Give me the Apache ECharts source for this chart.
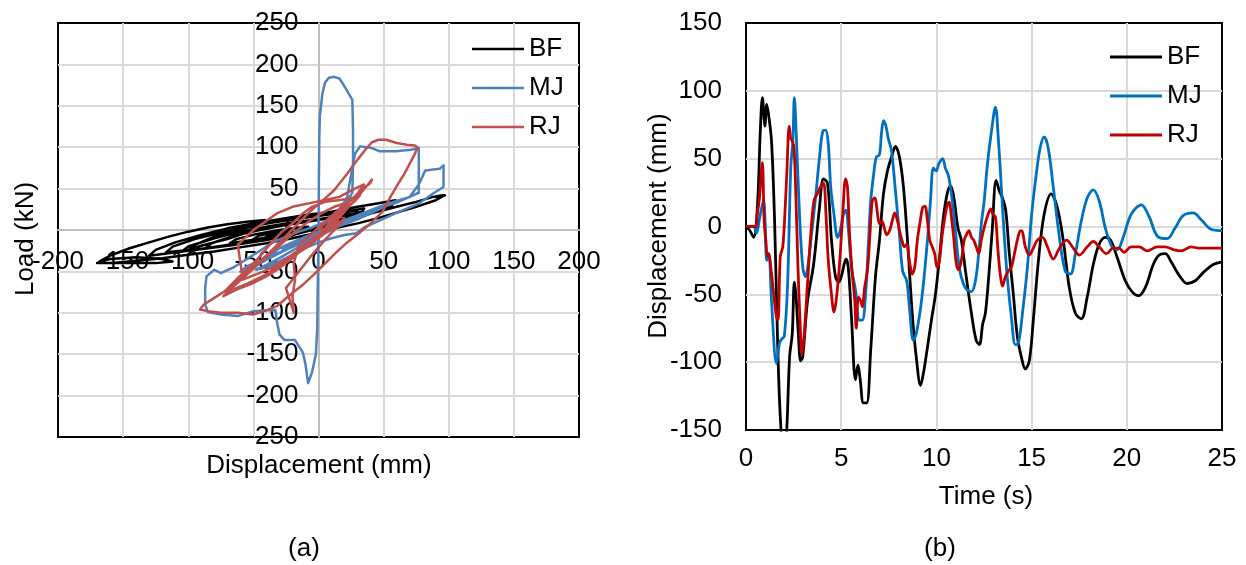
<!DOCTYPE html>
<html>
<head>
<meta charset="utf-8">
<script src="https://cdn.jsdelivr.net/npm/echarts@6/dist/echarts.min.js"></script>
<style>
html,body{margin:0;padding:0;background:#fff;}
#chart{width:1246px;height:565px;}
</style>
</head>
<body>
<div id="chart"></div>
<script>
// ---------- DATA ----------
const seriesNames = ['BF', 'MJ', 'RJ'];

// Panel (a): hysteresis, [displacement (mm), load (kN)]
const bfHysteresis = [
  [0,0],[-2,-1],[-5,-3],[0,2],[15,9],[30,16],[45,22],[60,28],[75,34],[88,40],[95,42],[97,42],
  [96,40],[90,36],[75,28],[60,21],[45,14],[30,8],[15,3],[0,-3],[-20,-10],[-40,-16],[-60,-21],[-80,-26],[-100,-30],[-120,-34],[-140,-37],[-160,-40],[-170,-40],
  [-150,-40],[-125,-40],[-112,-38],[-120,-35],[-140,-33],[-160,-35],[-168,-38],
  [-160,-31],[-145,-22],[-130,-15],[-115,-8],[-100,-2],[-85,3],[-70,7],[-55,10],[-41,12],
  [-45,7],[-55,-3],[-70,-11],[-85,-17],[-99,-23],
  [-95,-18],[-80,-8],[-60,1],[-40,8],[-20,13],[0,17],[20,22],[35,26],
  [33,20],[20,12],[0,3],[-20,-5],[-40,-11],[-60,-16],[-80,-21],[-100,-25],[-115,-28],[-130,-31],
  [-125,-24],[-110,-15],[-90,-6],[-70,2],[-50,8],[-30,13],[-10,18],[10,22],[30,28],[45,32],[59,36],
  [56,29],[40,20],[20,10],[0,2],[-20,-6],[-40,-12],[-60,-17],[-80,-21],[-100,-24],[-117,-27],
  [-112,-20],[-95,-11],[-75,-3],[-55,4],[-35,9],[-15,14],[5,18],[20,21],[30,24],
  [27,18],[10,9],[-10,0],[-30,-7],[-50,-13],[-70,-18],[-87,-22],
  [-82,-16],[-65,-7],[-45,0],[-25,6],[-5,11],[15,16],[34,22],
  [31,16],[15,8],[-5,0],[-25,-7],[-45,-13],[-65,-18],[-85,-22],[-105,-26],
  [-100,-20],[-80,-10],[-60,-2],[-40,4],[-20,9],[0,13],[24,19],
  [21,14],[5,6],[-15,-2],[-35,-8],[-55,-13],[-68,-16],
  [-63,-11],[-48,-5],[-30,0],[-15,3],[-8,4],
  [-12,0],[-25,-5],[-40,-9],[-51,-12],
  [-46,-7],[-35,-3],[-20,0],
  [-25,-4],[-35,-8],[-42,-10],
  [-38,-6],[-30,-4],[-26,-3]
];
const mjHysteresis = [
  [0,0],[0.3,60],[0.6,110],[1,137],[3,165],[5,178],[8,184],[12,185],[16,183],[19,176],[22,168],[26,157],
  [26.5,120],[26.5,80],[26,45],[18,25],[8,8],[0,-8],
  [-0.5,-60],[-1,-120],[-2,-150],[-5,-172],[-8,-185],[-10,-162],[-12,-148],[-18,-133],[-26,-133],[-30,-126],[-32,-110],[-33,-97],
  [-40,-97],[-50,-98],[-62,-104],[-75,-102],[-85,-99],[-87,-90],[-87,-70],[-86,-56],[-80,-48],
  [-75,-52],[-65,-45],[-55,-35],[-45,-25],[-35,-15],[-25,-8],[-15,-2],[-5,3],[5,10],[15,20],[22,40],[26,75],[28,92],
  [32,101],[41,99],[47,95],[59,95],[71,97],[77,99],[77,80],[77,60],[77,45],
  [70,40],[60,35],[50,30],[40,24],[30,18],[20,12],[10,5],[0,-2],[-10,-8],[-20,-15],[-30,-22],[-37,-30],
  [-30,-27],[-20,-20],[-10,-12],[0,-4],[10,4],[20,10],[30,16],[40,22],[50,28],[60,33],[70,40],
  [77,55],[82,72],[88,73],[93,74],[96,78],[96,65],[96,52],
  [88,44],[77,32],[65,24],[59,20],[45,10],[35,3],[29,-4],[20,-6],[10,-10],[0,-15],[-10,-22],[-20,-30],[-30,-38],[-40,-45],[-48,-48],
  [-40,-42],[-30,-34],[-20,-25],[-10,-16],[0,-8],[10,0],[20,8],[30,15],[40,22],[50,29],[55,33],
  [45,26],[35,18],[25,11],[15,4],[5,-3],[-5,-10],[-15,-17],[-25,-24],[-35,-30],[-45,-37],[-55,-44],[-60,-50],
  [-50,-45],[-40,-36],[-30,-28],[-20,-20],[-10,-12],[0,-4],[10,3],[20,9],[30,15],[40,21],[48,26],
  [40,20],[30,13],[20,7],[10,1],[0,-5],[-10,-12],[-20,-18],[-28,-22],
  [-20,-17],[-10,-10],[0,-3],[10,3],[16,6],[10,2],[0,-3],[-5,-5]
];
const rjHysteresis = [
  [0,0],[5,8],[15,22],[25,36],[33,48],[40,57],[41,61],
  [38,55],[30,40],[20,22],[8,2],[-5,-15],[-18,-30],[-30,-43],[-42,-55],[-55,-65],[-66,-72],[-70,-75],
  [-66,-66],[-58,-55],[-48,-42],[-38,-28],[-28,-12],[-18,4],[-8,20],[2,34],[12,48],[22,68],[30,85],[36,97],[41,106],[46,109],[52,109],[60,105],[68,103],[74,102],[76,100],
  [74,92],[70,80],[66,68],[62,58],[56,42],[49,22],[40,8],[31,-4],[22,-15],[13,-28],[4,-42],[-5,-56],[-12,-66],[-20,-76],[-26,-84],[-32,-92],[-40,-97],[-50,-102],[-62,-100],[-75,-100],[-85,-98],[-91,-96],
  [-88,-90],[-80,-82],[-72,-74],[-62,-58],[-52,-44],[-44,-30],[-36,-15],[-28,-2],[-20,8],[-12,20],[-5,28],[5,34],[15,36],[25,38],[32,42],
  [28,35],[18,22],[8,6],[-2,-8],[-12,-20],[-22,-32],[-32,-42],[-42,-50],[-52,-56],[-58,-60],
  [-62,-18],[-50,0],[-32,20],[-20,28],[-2,34],[16,40],[28,50],[35,55],
  [30,44],[20,28],[10,10],[0,-6],[-10,-20],[-20,-34],[-30,-46],[-40,-56],[-50,-64],[-60,-70],[-68,-76],[-73,-80],
  [-68,-72],[-58,-58],[-48,-44],[-38,-30],[-28,-16],[-18,-2],[-8,10],[2,20],[12,28],[20,32],
  [15,24],[5,10],[-5,-4],[-15,-18],[-19,-40],[-18,-60],[-20,-80],[-19,-100],[-22,-85],[-25,-70],
  [-15,-50],[-5,-30],[5,-12],[15,5],[20,14],[10,2],[0,-10],[-10,-22],[-18,-30],
  [-10,-18],[0,-6],[8,4],[15,12],[8,2],[0,-6],[-5,-10]
];

// Panel (b): time history, [time (s), displacement (mm)]
const bfTimeHistory = [
  [0,0],[0.2,-3],[0.4,-8],[0.6,15],[0.75,70],[0.86,95],[0.95,80],[0.99,74],[1.09,90],[1.2,81],[1.34,63],[1.5,5],[1.66,-85],[1.8,-140],[1.95,-162],[2.05,-160],[2.14,-150],[2.29,-96],[2.43,-79],[2.54,-41],[2.62,-50],[2.75,-79],[2.87,-99],[2.98,-96],[3.23,-55],[3.55,-28],[3.86,14],[4.07,35],[4.28,32],[4.49,-10],[4.70,-37],[4.87,-41],[5.04,-35],[5.25,-24],[5.37,-30],[5.54,-67],[5.75,-113],[5.88,-102],[6.0,-113],[6.17,-130],[6.34,-130],[6.55,-91],[6.8,-37],[7.01,-10],[7.22,24],[7.43,41],[7.64,51],[7.85,59],[8.06,51],[8.27,29],[8.48,-10],[8.73,-64],[8.94,-96],[9.17,-117],[9.32,-108],[9.53,-89],[9.74,-69],[9.95,-50],[10.16,-23],[10.37,7],[10.58,25],[10.75,30],[10.92,21],[11.13,-1],[11.31,-10],[11.52,-32],[11.84,-64],[12.09,-84],[12.26,-87],[12.43,-72],[12.57,-64],[12.72,-42],[12.93,-3],[13.14,34],[13.31,26],[13.47,21],[13.64,12],[13.83,-20],[14.04,-50],[14.25,-81],[14.46,-96],[14.67,-105],[14.88,-99],[15.09,-69],[15.36,-25],[15.66,9],[16.03,24],[16.35,14],[16.66,-10],[16.98,-45],[17.3,-64],[17.61,-68],[17.92,-52],[18.24,-28],[18.55,-13],[18.87,-8],[19.14,-10],[19.5,-23],[19.92,-40],[20.27,-48],[20.61,-51],[20.97,-45],[21.39,-28],[21.7,-21],[22.02,-20],[22.33,-26],[22.75,-36],[23.17,-42],[23.6,-40],[24.01,-34],[24.54,-28],[25,-26]
];
const mjTimeHistory = [
  [0,0],[0.4,0],[0.55,-5],[0.7,5],[0.92,19],[1.0,5],[1.09,-25],[1.2,-20],[1.34,-55],[1.6,-101],[1.76,-86],[1.87,-83],[2.01,-81],[2.18,-44],[2.35,43],[2.46,63],[2.54,95],[2.64,68],[2.81,9],[2.98,-30],[3.13,-37],[3.27,-27],[3.44,-6],[3.65,21],[3.86,51],[4.03,70],[4.18,71],[4.32,61],[4.45,29],[4.62,9],[4.81,-8],[4.95,-3],[5.12,9],[5.25,12],[5.37,-1],[5.54,-30],[5.75,-47],[5.96,-69],[6.11,-69],[6.28,-50],[6.42,-15],[6.55,19],[6.7,38],[6.84,51],[7.01,53],[7.11,68],[7.22,78],[7.35,74],[7.47,65],[7.64,56],[7.85,26],[8.06,-6],[8.23,-33],[8.44,-40],[8.58,-59],[8.79,-84],[8.94,-79],[9.15,-62],[9.32,-42],[9.53,-10],[9.69,19],[9.84,43],[9.99,41],[10.12,46],[10.33,50],[10.47,43],[10.62,38],[10.79,24],[11.0,-3],[11.2,-30],[11.41,-42],[11.62,-47],[11.84,-48],[12.05,-40],[12.22,-20],[12.36,2],[12.51,19],[12.68,46],[12.89,70],[13.1,88],[13.26,63],[13.41,29],[13.56,-6],[13.72,-37],[13.94,-67],[14.15,-87],[14.31,-86],[14.52,-64],[14.78,-30],[14.99,7],[15.24,38],[15.45,58],[15.66,66],[15.87,58],[16.14,29],[16.46,-8],[16.77,-33],[17.04,-35],[17.3,-20],[17.61,4],[17.92,21],[18.24,27],[18.55,19],[18.87,-1],[19.22,-15],[19.5,-17],[19.81,-8],[20.23,9],[20.76,16],[21.18,7],[21.6,-7],[22.12,-9],[22.54,-1],[22.96,8],[23.49,10],[23.91,5],[24.43,-2],[25,-3]
];
const rjTimeHistory = [
  [0,0],[0.5,0],[0.6,10],[0.7,20],[0.86,47],[0.95,5],[1.05,-12],[1.12,-22],[1.2,-20],[1.3,-30],[1.6,-67],[1.68,-69],[1.8,-22],[1.93,-15],[2.04,9],[2.14,38],[2.27,74],[2.35,65],[2.43,63],[2.52,58],[2.6,31],[2.73,-30],[2.85,-74],[2.94,-94],[3.06,-79],[3.23,-42],[3.4,-6],[3.57,19],[3.74,24],[3.9,29],[4.07,32],[4.2,9],[4.32,-25],[4.49,-50],[4.62,-63],[4.74,-54],[4.91,-28],[5.08,9],[5.23,35],[5.33,29],[5.44,-6],[5.58,-35],[5.71,-54],[5.79,-75],[5.9,-52],[6.0,-54],[6.11,-59],[6.23,-45],[6.38,-32],[6.51,-6],[6.63,19],[6.76,21],[6.91,9],[7.01,2],[7.14,4],[7.26,-1],[7.39,-6],[7.54,-3],[7.68,4],[7.81,10],[7.96,4],[8.06,-3],[8.19,-10],[8.31,-15],[8.44,-13],[8.58,-25],[8.73,-35],[8.86,-30],[9.0,-10],[9.15,4],[9.28,14],[9.4,15],[9.53,4],[9.65,-10],[9.78,-15],[9.91,-20],[10.03,-30],[10.16,-25],[10.29,-8],[10.41,4],[10.54,14],[10.66,18],[10.79,7],[10.92,-10],[11.04,-27],[11.17,-32],[11.31,-25],[11.46,-10],[11.58,-6],[11.71,-3],[11.84,-8],[11.96,-10],[12.09,-15],[12.22,-20],[12.36,-10],[12.47,-3],[12.6,4],[12.72,9],[12.85,13],[12.97,9],[13.1,7],[13.22,-15],[13.35,-35],[13.47,-44],[13.62,-37],[13.77,-33],[13.94,-30],[14.1,-20],[14.25,-10],[14.42,-3],[14.52,-4],[14.67,-15],[14.88,-21],[15.09,-16],[15.3,-10],[15.57,-8],[15.83,-15],[16.14,-24],[16.46,-16],[16.84,-10],[17.19,-16],[17.51,-21],[17.92,-15],[18.24,-11],[18.55,-15],[18.93,-20],[19.29,-16],[19.6,-16],[19.86,-19],[20.23,-15],[20.65,-15],[21.07,-18],[21.6,-15],[22.02,-15],[22.44,-17],[22.86,-18],[23.38,-15],[23.8,-16],[24.33,-16],[25,-16]
];

// Axis ranges / ticks
const dispTicksA = {min: -200, max: 200, interval: 50};
const loadTicksA = {min: -250, max: 250, interval: 50};
const timeTicksB = {min: 0, max: 25, interval: 5};
const dispTicksB = {min: -150, max: 150, interval: 50};

const colorsA = ['#000000', '#4F81BD', '#C0504D'];
const colorsB = ['#000000', '#0070C0', '#C00000'];

// ---------- CHART ----------
const FONT = '"Liberation Sans", Arial, sans-serif';
const FS = 26;
const chart = echarts.init(document.getElementById('chart'), null, {renderer: 'canvas'});

// panel (a) geometry: axes cross at zero inside the plot
const gridA = {left: 58, top: 23, width: 521, height: 414};
const gridB = {left: 746, top: 23, width: 476, height: 407};
const xZeroOffsetA = -(gridA.height * loadTicksA.max / (loadTicksA.max - loadTicksA.min));
const yZeroOffsetA = -(gridA.width * (0 - dispTicksA.min) / (dispTicksA.max - dispTicksA.min));

const gridLine = {show: true, showMinLine: false, showMaxLine: false, lineStyle: {color: '#d9d9d9', width: 2}};
const lbl = (margin) => ({fontSize: FS, color: '#000', fontFamily: FONT, margin: margin});

function lineSeries(name, data, color, width, xi, z) {
  return {
    name: name, type: 'line', xAxisIndex: xi, yAxisIndex: xi, data: data,
    symbol: 'none', showSymbol: false, smooth: xi === 1 ? 0.35 : false,
    lineStyle: {color: color, width: width, join: 'round'}, itemStyle: {color: color},
    z: z, animation: false
  };
}

const option = {
  animation: false,
  backgroundColor: '#fff',
  textStyle: {fontFamily: FONT},
  grid: [
    Object.assign({show: true, borderColor: '#000', borderWidth: 2, backgroundColor: 'rgba(0,0,0,0)', outerBoundsMode: 'none', containLabel: false}, gridA),
    Object.assign({show: true, borderColor: '#000', borderWidth: 2, backgroundColor: 'rgba(0,0,0,0)', outerBoundsMode: 'none', containLabel: false}, gridB)
  ],
  xAxis: [
    Object.assign({gridIndex: 0, type: 'value', position: 'bottom', offset: xZeroOffsetA,
      axisLine: {show: true, onZero: false, lineStyle: {color: '#bfbfbf', width: 2}},
      axisTick: {show: false}, axisLabel: lbl(19), splitLine: gridLine}, dispTicksA),
    Object.assign({gridIndex: 1, type: 'value',
      axisLine: {show: false, onZero: false},
      axisTick: {show: false}, axisLabel: lbl(16), splitLine: gridLine}, timeTicksB)
  ],
  yAxis: [
    Object.assign({gridIndex: 0, type: 'value', position: 'left', offset: yZeroOffsetA,
      axisLine: {show: true, onZero: false, lineStyle: {color: '#bfbfbf', width: 2}},
      axisTick: {show: false}, axisLabel: lbl(20), splitLine: gridLine}, loadTicksA),
    Object.assign({gridIndex: 1, type: 'value',
      axisLine: {show: false, onZero: false},
      axisTick: {show: false}, axisLabel: lbl(24), splitLine: gridLine}, dispTicksB)
  ],
  legend: [
    {left: 467, top: 31, orient: 'vertical', itemWidth: 52, itemHeight: 2.5, itemGap: 13, icon: 'rect',
     textStyle: {fontSize: FS, color: '#000', fontFamily: FONT}, selectedMode: false,
     data: seriesNames.map((n, i) => ({name: n, icon: 'rect', itemStyle: {color: colorsA[i]}}))},
    {left: 1105, top: 39, orient: 'vertical', itemWidth: 52, itemHeight: 3, itemGap: 13, icon: 'rect',
     textStyle: {fontSize: FS, color: '#000', fontFamily: FONT}, selectedMode: false,
     data: seriesNames.map((n, i) => ({name: n, icon: 'rect', itemStyle: {color: colorsB[i]}}))}
  ],
  graphic: [
    {type: 'text', x: 26, y: 239, rotation: Math.PI / 2, style: {text: 'Load (kN)', font: FS + 'px ' + FONT, fill: '#000', align: 'center', verticalAlign: 'middle'}},
    {type: 'text', x: 319, y: 466, style: {text: 'Displacement (mm)', font: FS + 'px ' + FONT, fill: '#000', align: 'center', verticalAlign: 'middle'}},
    {type: 'text', x: 659, y: 226, rotation: Math.PI / 2, style: {text: 'Displacement (mm)', font: FS + 'px ' + FONT, fill: '#000', align: 'center', verticalAlign: 'middle'}},
    {type: 'text', x: 986, y: 497, style: {text: 'Time (s)', font: FS + 'px ' + FONT, fill: '#000', align: 'center', verticalAlign: 'middle'}},
    {type: 'text', x: 304, y: 549, style: {text: '(a)', font: FS + 'px ' + FONT, fill: '#000', align: 'center', verticalAlign: 'middle'}},
    {type: 'text', x: 940, y: 549, style: {text: '(b)', font: FS + 'px ' + FONT, fill: '#000', align: 'center', verticalAlign: 'middle'}}
  ],
  series: [
    lineSeries('BF', bfHysteresis, colorsA[0], 2.5, 0, 2),
    lineSeries('MJ', mjHysteresis, colorsA[1], 2.5, 0, 3),
    lineSeries('RJ', rjHysteresis, colorsA[2], 2.5, 0, 4),
    lineSeries('BF', bfTimeHistory, colorsB[0], 2.8, 1, 2),
    lineSeries('MJ', mjTimeHistory, colorsB[1], 2.8, 1, 3),
    lineSeries('RJ', rjTimeHistory, colorsB[2], 2.8, 1, 4)
  ]
};
chart.setOption(option);
</script>
</body>
</html>
